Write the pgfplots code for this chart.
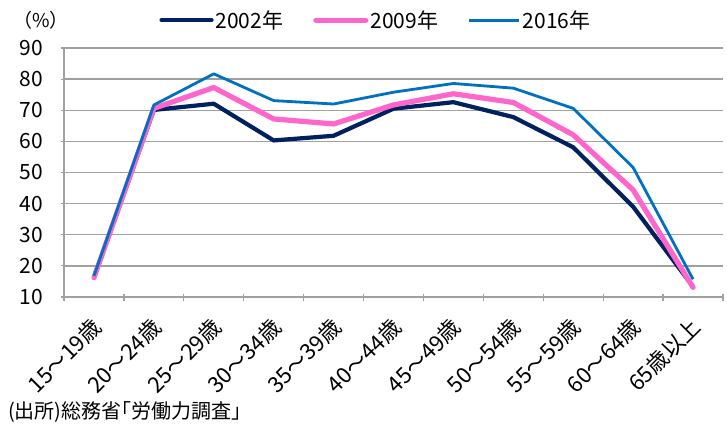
\documentclass[border=0pt]{standalone}
\usepackage{pgfplots}
\pgfplotsset{compat=1.18}
\usepackage{fontspec}
\setmainfont{Noto Sans CJK JP}
\definecolor{c02}{HTML}{002060}
\definecolor{c09}{HTML}{FF66CC}
\definecolor{c16}{HTML}{0070C0}
\definecolor{gridc}{HTML}{A0A0A0}
\begin{document}
\begin{tikzpicture}
\useasboundingbox (-64bp,-135bp) rectangle (663bp,297bp);
\begin{axis}[
  scale only axis,
  width=659bp, height=249bp,
  xmin=0.5, xmax=11.5, ymin=10, ymax=90,
  ytick={10,20,...,90},
  xtick={1,...,11},
  xticklabels={15～19歳,20～24歳,25～29歳,30～34歳,35～39歳,40～44歳,45～49歳,50～54歳,55～59歳,60～64歳,65歳以上},
  minor xtick={0.5,1.5,...,11.5},
  major x tick style={draw=none},
  minor x tick style={draw=gridc, line width=1.2bp},
  ytick style={draw=gridc, line width=1.2bp},
  tick align=outside,
  major tick length=7bp, minor tick length=7bp,
  axis x line=bottom, axis y line=left,
  axis line style={draw=gridc, line width=1.3bp, -},
  ymajorgrids, grid style={draw=gridc, line width=1.3bp},
  /pgf/number format/assume math mode=true,
  yticklabel style={font=\fontsize{21bp}{24bp}\selectfont, xshift=-14bp},
  xticklabel style={font=\fontsize{22bp}{25bp}\selectfont, inner sep=0pt, anchor=north east, xshift=-4bp, yshift=-15bp, rotate=45},
  legend columns=3,
  legend style={at={(0.4734,1.112)}, anchor=center, draw=none, fill=none,
    font=\fontsize{21bp}{24bp}\selectfont,
    /tikz/every even column/.append style={column sep=28bp},
    inner sep=0pt},
  legend image code/.code={\draw[#1] (0bp,0bp) -- (50bp,0bp);},
  clip=false,
]
\addplot[c02, line width=4.2bp, line join=round, line cap=round] coordinates {
(1,16.3) (2,70.1) (3,72.1) (4,60.3) (5,61.8) (6,70.5) (7,72.6) (8,67.8) (9,58.1) (10,39.0) (11,13.3)};
\addlegendentry{2002年}
\addplot[c09, line width=5.2bp, line join=round, line cap=round] coordinates {
(1,16.2) (2,70.6) (3,77.3) (4,67.2) (5,65.6) (6,71.7) (7,75.3) (8,72.5) (9,62.1) (10,44.4) (11,13.1)};
\addlegendentry{2009年}
\addplot[c16, line width=2.8bp, line join=round] coordinates {
(1,16.8) (2,71.7) (3,81.7) (4,73.1) (5,72.0) (6,75.8) (7,78.6) (8,77.1) (9,70.6) (10,51.6) (11,15.7)};
\addlegendentry{2016年}
\end{axis}
\node[font=\fontsize{19bp}{22bp}\selectfont] at (-23bp,277bp) {（\%）};
\node[anchor=west, inner sep=0pt, font=\fontsize{20bp}{23bp}\selectfont] at (-56bp,-115bp) {(出所)総務省｢労働力調査｣};
\end{tikzpicture}
\end{document}
